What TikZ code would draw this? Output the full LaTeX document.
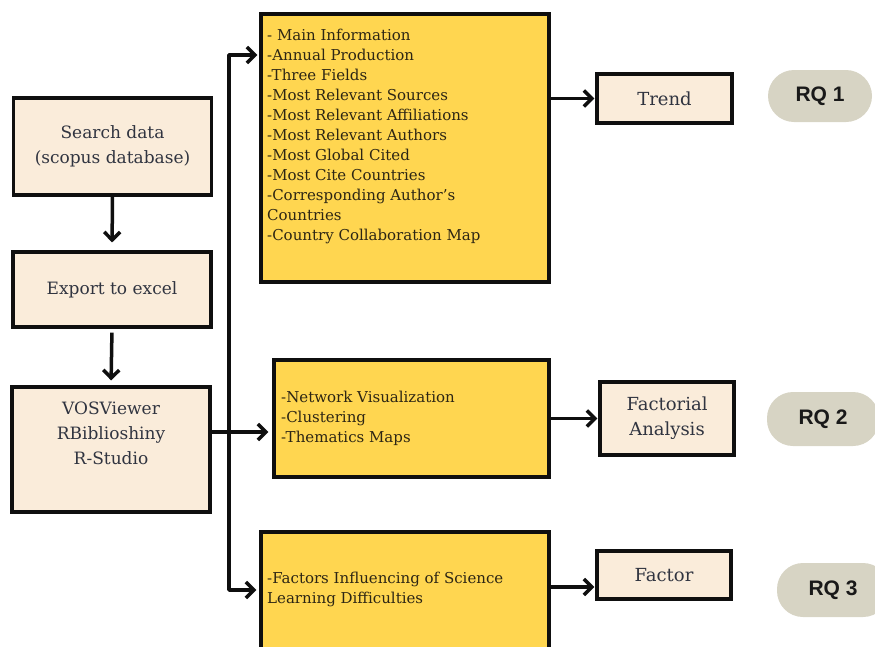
\documentclass[tikz,border=0pt]{standalone}
\usepackage{fontspec}
\setmainfont{DejaVu Serif}
\newfontfamily\rqfont{Liberation Sans}
\usetikzlibrary{arrows.meta,calc}
\definecolor{beigefill}{RGB}{250,236,218}
\definecolor{goldfill}{RGB}{255,214,80}
\definecolor{pillfill}{RGB}{215,212,196}
\definecolor{slatetext}{RGB}{48,52,64}
\definecolor{olivetext}{RGB}{45,38,20}
\definecolor{edgecol}{RGB}{15,15,15}
\begin{document}
\begin{tikzpicture}[x=1pt,y=-1pt,
  beigebox/.style={draw=edgecol,line width=3.2pt,fill=beigefill,inner sep=0pt},
  goldbox/.style={draw=edgecol,line width=3.2pt,fill=goldfill,inner sep=0pt},
  lefttext/.style={text=slatetext,font=\fontsize{17}{25}\selectfont,align=center,inner sep=0pt},
  listtext/.style={text=olivetext,font=\fontsize{15}{20}\selectfont,align=left,inner sep=0pt,anchor=north west},
  pill/.style={fill=pillfill,rounded corners=26pt,inner sep=0pt,font=\rqfont\bfseries\fontsize{21}{21}\selectfont,text=black!90},
  flow/.style={line width=3.5pt,draw=edgecol,-{Straight Barb[length=8pt,width=16pt]}},
  trunk/.style={line width=3.5pt,draw=edgecol,line join=round,{Straight Barb[length=8pt,width=16pt]}-{Straight Barb[length=8pt,width=16pt]}}]
\useasboundingbox (0,0) rectangle (875,646);

% left column
\node[beigebox,minimum width=198pt,minimum height=97pt] (search) at (112.5,146.5) {};
\node[lefttext] (searchtxt) at (search.center) {Search data\\(scopus database)};
\node[beigebox,minimum width=198pt,minimum height=75pt] (export) at (112,289.5) {};
\node[lefttext] (exporttxt) at (export.center) {Export to excel};
\node[beigebox,minimum width=198pt,minimum height=125pt] (vos) at (111,449.5) {};
\node[lefttext] (vostxt) at (111,433) {VOSViewer\\RBiblioshiny\\R-Studio};

% yellow boxes
\node[goldbox,minimum width=288pt,minimum height=268pt] (box1) at (405,148) {};
\node[listtext] (box1txt) at (267,29) {- Main Information\\-Annual Production\\-Three Fields\\-Most Relevant Sources\\-Most Relevant Affiliations\\-Most Relevant Authors\\-Most Global Cited\\-Most Cite Countries\\-Corresponding Author's\\Countries\\-Country Collaboration Map};
\node[goldbox,minimum width=275pt,minimum height=117pt] (box2) at (411.5,418.5) {};
\node[listtext] (box2txt) at (281,391) {-Network Visualization\\-Clustering\\-Thematics Maps};
\node[goldbox,minimum width=288pt,minimum height=128pt] (box3) at (405,596) {};
\node[listtext] (box3txt) at (267,572) {-Factors Influencing of Science\\Learning Difficulties};

% result boxes
\node[beigebox,minimum width=135pt,minimum height=49pt,text=slatetext,font=\fontsize{18}{24}\selectfont] (trend) at (664.5,98.5) {Trend};
\node[beigebox,minimum width=134pt,minimum height=73pt,text=slatetext,font=\fontsize{18}{25}\selectfont,align=center] (factorial) at (667,418.5) {Factorial\\Analysis};
\node[beigebox,minimum width=134pt,minimum height=48pt,text=slatetext,font=\fontsize{18}{24}\selectfont] (factor) at (664,575) {Factor};

% RQ pills
\node[pill,minimum width=104pt,minimum height=52pt] (rq1) at (820,96) {RQ 1};
\node[pill,minimum width=112pt,minimum height=54pt] (rq2) at (823,419) {RQ 2};
\node[pill,minimum width=112pt,minimum height=54pt] (rq3) at (833,590) {RQ 3};

% connectors
\draw[flow,shorten >=8pt] (search.south) -- (export.north);
\draw[flow,shorten <=4pt,shorten >=5pt] (export.south) -- (vos.north);
\coordinate (tt) at (229,55);
\coordinate (tb) at (229,590);
\draw[trunk,shorten <=2pt,shorten >=3pt] (box1.west |- tt) -- (tt) -- (tb) -- (box3.west |- tb);
\coordinate (jv) at (229,432);
\draw[flow,shorten >=4pt] (vos.east |- jv) -- (box2.west |- jv);
\draw[flow,shorten >=1pt] (box1.east |- trend.west) -- (trend.west);
\draw[flow,shorten >=1pt] (box2.east |- factorial.west) -- (factorial.west);
\coordinate (a3) at (575,587);
\draw[flow,shorten >=1pt] (box3.east |- a3) -- (factor.west |- a3);
\end{tikzpicture}
\end{document}
